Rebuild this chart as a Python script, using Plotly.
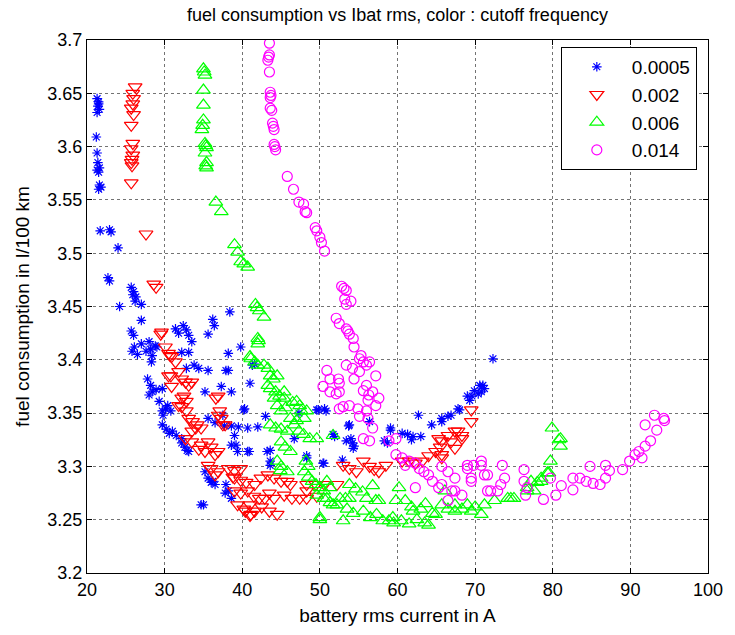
import plotly.graph_objects as go

# ---------------- data ----------------
series_names = ["0.0005", "0.002", "0.006", "0.014"]

blue_pts = [
(21.3,3.645),(21.5,3.642),(21.4,3.638),(21.6,3.635),(21.3,3.632),(21.5,3.64),
(21.2,3.609),(21.3,3.594),(21.4,3.585),(21.6,3.58),(21.5,3.576),(21.3,3.578),
(21.6,3.564),(21.8,3.562),(21.5,3.56),
(21.7,3.521),(23.1,3.52),(22.9,3.522),(24.0,3.505),
(22.7,3.477),(22.9,3.474),
(25.7,3.468),(26.0,3.464),(26.3,3.459),(25.9,3.461),(26.2,3.455),
(24.2,3.45),(27.0,3.452),(27.0,3.437),
(25.7,3.427),(26.0,3.423),(25.8,3.408),(26.1,3.412),(27.0,3.415),(26.5,3.405),
(28.0,3.417),(28.2,3.41),(28.4,3.404),(27.6,3.408),(28.8,3.413),(29.0,3.412),(28.3,3.398),
(31.4,3.429),(32.4,3.432),(33.1,3.423),(33.5,3.417),(31.8,3.425),(32.8,3.428),
(36.2,3.438),(36.4,3.432),(35.6,3.424),(38.4,3.445),
(39.8,3.412),(38.2,3.406),(38.2,3.39),(35.6,3.39),(34.4,3.392),(32.8,3.392),(33.8,3.395),
(32.2,3.407),(33.1,3.407),(41.0,3.378),(41.6,3.396),(41.3,3.395),
(27.8,3.382),(28.2,3.376),(28.4,3.37),(28.0,3.367),(28.9,3.372),(29.7,3.373),
(30.1,3.354),(29.7,3.352),(29.8,3.348),(30.8,3.352),(30.4,3.357),(29.3,3.361),
(35.2,3.37),(37.3,3.375),(38.6,3.37),(40.3,3.354),(37.9,3.39),
(29.7,3.339),(30.2,3.335),(31.0,3.333),(31.5,3.329),(32.2,3.326),(30.6,3.331),
(32.2,3.322),(32.6,3.318),(33.1,3.314),(32.9,3.315),
(35.6,3.345),(36.5,3.341),(37.5,3.348),(37.7,3.338),
(38.6,3.338),(39.5,3.337),(40.7,3.336),(42.0,3.337),(40.2,3.353),(43.0,3.347),
(39.0,3.329),(39.2,3.32),(39.4,3.314),(38.6,3.32),(40.9,3.314),(40.7,3.314),
(43.6,3.315),(43.2,3.314),(43.6,3.301),(43.6,3.305),(46.7,3.326),(47.3,3.35),
(35.2,3.295),(35.6,3.289),(36.0,3.285),(36.5,3.283),(36.2,3.286),
(37.9,3.283),(38.2,3.277),(38.6,3.27),(37.8,3.275),
(35.0,3.264),(34.7,3.264),
(48.3,3.308),(48.3,3.31),(50.5,3.303),(50.4,3.303),(52.9,3.306),
(49.8,3.353),(49.6,3.353),(50.6,3.354),(50.8,3.352),(51.7,3.33),(51.9,3.328),
(53.7,3.338),(53.8,3.339),(54.0,3.326),(54.2,3.322),(54.4,3.319),(53.4,3.324),(54.3,3.317),
(56.4,3.342),(59.1,3.336),(59.1,3.334),(58.7,3.322),(58.3,3.324),
(60.6,3.331),(61.3,3.33),(62.0,3.328),(63.0,3.328),(61.8,3.325),
(62.7,3.348),(64.4,3.339),(65.7,3.345),(65.7,3.342),(66.5,3.347),(66.9,3.348),
(67.8,3.354),(68.0,3.353),(69.0,3.366),(69.3,3.362),(69.9,3.371),(69.6,3.366),
(70.6,3.376),(71.2,3.373),(70.8,3.37),(71.0,3.376),(70.4,3.368),(72.3,3.401),
]

red_pts = [
(26.2,3.656),(25.9,3.65),(26.0,3.645),(25.9,3.64),(25.7,3.636),(26.0,3.63),(25.7,3.62),
(25.9,3.603),(25.7,3.598),(25.9,3.592),(25.8,3.588),(25.7,3.585),(25.8,3.582),(25.7,3.566),
(27.6,3.518),(28.6,3.471),(28.9,3.468),
(29.5,3.424),(29.6,3.426),(30.1,3.412),(30.5,3.406),(30.9,3.403),(30.7,3.404),(31.4,3.398),
(30.5,3.385),(30.8,3.385),(31.8,3.389),(32.2,3.382),(32.7,3.379),(33.5,3.379),(33.1,3.376),
(30.9,3.375),(32.5,3.366),(32.8,3.361),(32.2,3.356),(32.8,3.352),(32.2,3.364),(31.8,3.357),
(36.6,3.364),(36.9,3.366),(37.1,3.352),(36.9,3.348),(37.5,3.339),(37.3,3.345),(37.8,3.339),
(33.1,3.345),(33.6,3.342),(34.2,3.339),(34.7,3.336),(33.5,3.333),(34.0,3.336),(32.7,3.326),
(35.6,3.323),(36.0,3.318),(36.5,3.311),(34.7,3.32),(33.5,3.323),(34.4,3.316),(35.2,3.314),(36.9,3.314),
(36.0,3.298),(36.5,3.292),(35.6,3.301),(36.9,3.295),
(38.2,3.298),(39.0,3.296),(39.8,3.298),(38.8,3.29),
(39.0,3.289),(39.8,3.287),(40.5,3.285),(41.6,3.283),(42.4,3.289),(43.3,3.292),(44.1,3.289),(45.0,3.286),(45.8,3.286),(46.2,3.283),
(39.0,3.277),(39.8,3.275),(40.7,3.277),(41.5,3.272),(42.2,3.27),(42.9,3.27),(43.5,3.275),(44.1,3.27),(45.4,3.273),(46.4,3.27),(47.4,3.27),(48.3,3.27),
(39.4,3.264),(40.2,3.26),(41.0,3.264),(41.6,3.258),(41.0,3.254),(41.1,3.255),(42.5,3.262),(43.5,3.258),(44.5,3.255),(40.4,3.258),
(48.3,3.283),(49.5,3.283),(50.6,3.283),(52.2,3.283),(48.3,3.277),(49.6,3.272),
(53.0,3.301),(53.8,3.298),(54.7,3.295),(55.6,3.305),(56.4,3.3),(57.0,3.297),(57.6,3.295),(58.5,3.301),
(60.6,3.305),(61.5,3.305),(62.3,3.303),(63.2,3.305),(64.0,3.31),(64.9,3.314),(65.7,3.324),(65.7,3.311),
(65.3,3.326),(65.5,3.318),(65.7,3.308),(66.5,3.329),(66.9,3.323),(67.4,3.317),(67.4,3.333),(67.8,3.333),(68.3,3.329),(68.3,3.326),
(69.5,3.353),(69.5,3.342),
]

green_pts = [
(35.0,3.673),(35.1,3.67),(35.2,3.667),(35.0,3.653),(35.0,3.639),(35.0,3.625),(34.9,3.62),(34.8,3.616),
(35.2,3.603),(35.3,3.601),(35.4,3.599),(35.2,3.594),(35.4,3.585),(35.3,3.582),(35.4,3.58),
(36.6,3.548),(37.3,3.539),
(39.0,3.508),(39.4,3.501),(39.8,3.492),(40.2,3.49),(40.7,3.487),
(41.7,3.452),(42.2,3.446),(42.8,3.44),(41.9,3.449),
(42.0,3.42),(42.0,3.415),(42.1,3.418),
(41.0,3.403),(41.6,3.398),(42.8,3.395),(41.1,3.401),(42.0,3.395),
(43.3,3.392),(43.6,3.385),(44.5,3.385),(44.0,3.382),
(43.3,3.376),(43.6,3.373),(44.3,3.37),(45.4,3.37),(44.8,3.366),(45.4,3.364),
(44.1,3.364),(44.5,3.357),(45.0,3.352),(45.6,3.355),(46.2,3.345),(46.5,3.36),(47.0,3.361),(47.4,3.357),(47.6,3.352),(48.3,3.352),
(43.6,3.339),(44.3,3.336),(45.0,3.335),(45.8,3.333),(46.7,3.339),(47.3,3.333),(47.9,3.33),(48.7,3.326),(49.6,3.326),(51.7,3.329),
(45.0,3.323),(45.5,3.318),(46.2,3.314),(47.0,3.343),(48.0,3.345),
(44.5,3.305),(45.0,3.3),(45.8,3.295),(44.9,3.296),
(48.0,3.295),(48.5,3.29),(49.0,3.286),(49.5,3.283),(50.0,3.28),(50.5,3.277),(48.5,3.3),(49.6,3.273),(48.2,3.305),
(50.9,3.286),(51.3,3.28),(50.9,3.27),(50.5,3.27),(51.3,3.266),(52.2,3.264),(51.7,3.264),(52.6,3.27),(53.3,3.27),(53.8,3.27),
(50.0,3.25),(50.0,3.252),(53.0,3.249),(54.3,3.256),(53.5,3.26),
(53.8,3.283),(54.6,3.279),(55.5,3.276),(56.8,3.282),(57.2,3.268),(57.6,3.268),(56.0,3.27),
(55.6,3.258),(56.5,3.252),(57.3,3.255),(58.1,3.249),(58.9,3.249),(59.4,3.252),
(59.8,3.268),(60.2,3.28),(61.0,3.268),(61.8,3.262),(62.0,3.258),(63.0,3.26),(63.6,3.265),(64.5,3.256),(64.9,3.255),
(59.5,3.247),(60.5,3.249),(61.5,3.246),(62.5,3.25),(63.5,3.247),(64.0,3.245),
(65.7,3.264),(66.1,3.277),(66.5,3.26),(67.4,3.258),(67.4,3.264),(68.3,3.26),(69.0,3.264),(69.5,3.258),(70.0,3.262),(70.8,3.255),(71.2,3.264),
(72.5,3.268),(74.2,3.27),(74.6,3.27),(75.0,3.27),(76.7,3.277),(76.7,3.28),(77.2,3.286),(77.6,3.277),(78.0,3.285),(78.5,3.286),(78.5,3.289),
(79.3,3.294),(79.5,3.294),(79.7,3.305),(79.9,3.336),(80.8,3.325),(81.0,3.326),(81.0,3.319),
]

magenta_pts = [
(43.5,3.697),(43.5,3.686),(43.4,3.684),(43.3,3.681),(43.5,3.67),
(43.6,3.651),(43.7,3.648),(43.6,3.646),(43.6,3.636),(43.8,3.634),
(43.9,3.622),(44.0,3.619),(44.1,3.616),(44.1,3.602),(44.2,3.6),(44.3,3.597),
(45.8,3.572),(46.6,3.56),(47.3,3.548),(47.9,3.546),(48.1,3.539),(48.3,3.538),
(49.4,3.524),(49.6,3.521),(50.0,3.515),(50.2,3.51),(50.6,3.502),
(52.8,3.469),(53.1,3.467),(53.4,3.465),(53.2,3.457),(53.4,3.452),(54.0,3.455),
(52.1,3.439),(52.5,3.434),(53.4,3.429),(53.8,3.424),(53.6,3.427),(54.3,3.42),(54.4,3.412),
(55.3,3.404),(55.6,3.398),(56.4,3.398),(55.1,3.401),(56.0,3.395),
(53.4,3.395),(54.2,3.392),(55.1,3.389),(50.9,3.39),(51.3,3.382),(52.4,3.382),(52.5,3.378),(54.4,3.382),(57.2,3.385),
(56.0,3.376),(56.8,3.37),(55.6,3.371),(56.3,3.367),(51.3,3.37),(52.5,3.37),(52.1,3.368),(50.4,3.375),
(57.6,3.364),(56.2,3.362),(57.2,3.357),(53.8,3.357),(54.9,3.354),(56.0,3.352),(52.5,3.354),(53.0,3.356),
(56.2,3.345),(55.1,3.347),(56.8,3.336),(55.6,3.326),(56.4,3.324),
(58.9,3.324),(59.8,3.326),(59.8,3.311),(60.6,3.308),(61.5,3.305),(61.0,3.301),
(62.3,3.303),(62.8,3.298),(63.4,3.295),(64.0,3.292),(62.3,3.28),(64.5,3.286),(65.7,3.283),
(65.7,3.3),(66.5,3.295),(67.4,3.289),(65.3,3.28),(67.0,3.277),(67.4,3.277),(68.3,3.273),(66.5,3.268),
(69.0,3.301),(69.8,3.301),(70.8,3.301),(69.0,3.298),(69.5,3.289),(69.5,3.286),(70.8,3.305),(71.2,3.292),(71.6,3.292),(71.6,3.277),
(72.0,3.277),(72.9,3.277),(73.3,3.283),(73.5,3.301),(73.8,3.289),
(76.3,3.297),(76.3,3.286),(76.7,3.28),(76.5,3.273),(78.8,3.269),(79.7,3.289),(80.4,3.273),(81.1,3.282),
(82.6,3.289),(83.5,3.289),(82.6,3.278),(84.8,3.3),(84.3,3.286),(85.2,3.284),(86.1,3.283),(86.8,3.301),(86.8,3.289),
(87.3,3.296),(89.0,3.297),(89.9,3.305),(90.6,3.311),(91.1,3.314),(91.5,3.308),(91.9,3.319),(92.6,3.324),
(91.9,3.339),(93.4,3.334),(93.1,3.348),(94.3,3.345),(94.4,3.343),
]

x_ticks = [20, 30, 40, 50, 60, 70, 80, 90, 100]
y_ticks = [3.2, 3.25, 3.3, 3.35, 3.4, 3.45, 3.5, 3.55, 3.6, 3.65, 3.7]
y_tick_labels = ["3.2", "3.25", "3.3", "3.35", "3.4", "3.45", "3.5", "3.55", "3.6", "3.65", "3.7"]

# ---------------- figure ----------------
FONT = "Liberation Sans, Arial, Helvetica, sans-serif"
styles = [
    ("asterisk-open", "#0000ff", 8),
    ("triangle-down-open", "#ff0000", 12),
    ("triangle-up-open", "#00ff00", 12),
    ("circle-open", "#ff00ff", 10),
]

fig = go.Figure()
for name, pts, (sym, col, sz) in zip(series_names, [blue_pts, red_pts, green_pts, magenta_pts], styles):
    fig.add_trace(go.Scatter(
        x=[p[0] for p in pts], y=[p[1] for p in pts],
        mode="markers", name=name,
        marker=dict(symbol=sym, color=col, size=sz, line=dict(color=col, width=1.2)),
    ))

axis_common = dict(
    showline=True, linecolor="black", linewidth=1, mirror="ticks",
    ticks="inside", ticklen=5, tickcolor="black",
    showgrid=True, gridcolor="rgba(0,0,0,0.55)", griddash="dot", gridwidth=1,
    zeroline=False, tickfont=dict(family=FONT, size=18, color="black"),
)

fig.update_layout(
    width=735, height=635,
    margin=dict(l=87, r=19, t=40, b=59),
    paper_bgcolor="white", plot_bgcolor="white",
    title=dict(text="fuel consumption vs Ibat rms, color : cutoff frequency",
               x=0.5, xref="paper", xanchor="center",
               y=1 - 15 / 635, yref="container", yanchor="middle",
               font=dict(family=FONT, size=18, color="black")),
    xaxis=dict(range=[20, 100], tickvals=x_ticks,
               title=dict(text="battery rms current in A", standoff=10,
                          font=dict(family=FONT, size=19, color="black")),
               **axis_common),
    yaxis=dict(range=[3.2, 3.7], tickvals=y_ticks, ticktext=y_tick_labels,
               title=dict(text="fuel consumption in l/100 km", standoff=12,
                          font=dict(family=FONT, size=19, color="black")),
               **axis_common),
    legend=dict(x=0.763, y=0.987, xanchor="left", yanchor="top",
                bgcolor="white", bordercolor="black", borderwidth=1,
                font=dict(family=FONT, size=19, color="black"),
                itemwidth=60, tracegroupgap=0),
    showlegend=True,
)

fig.write_html("out.html")
